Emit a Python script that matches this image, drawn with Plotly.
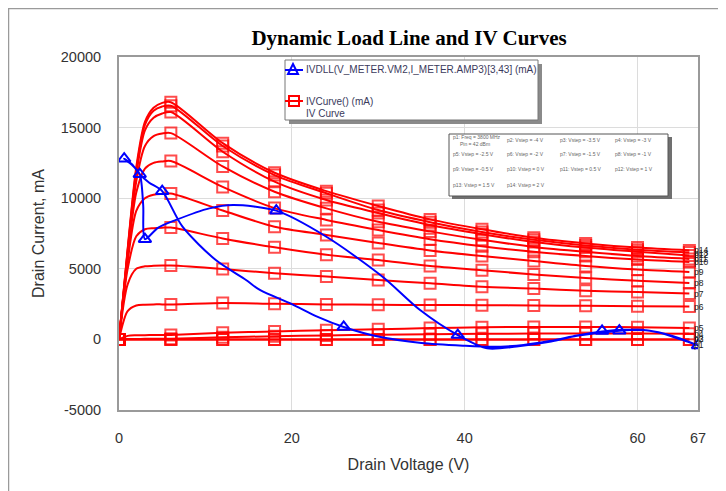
import plotly.graph_objects as go

# ---------------- data ----------------
iv_v = [0, 1, 2, 3, 4, 5, 6, 12, 18, 24, 30, 36, 42, 48, 54, 60, 66]

iv_p14 = [0, 6400, 12200, 15400, 16400, 16750, 16800, 13900, 11800, 10500, 9450, 8500, 7800, 7200, 6800, 6500, 6300]
iv_p13 = [0, 6300, 12000, 15200, 16200, 16500, 16550, 13700, 11640, 10350, 9160, 8300, 7600, 7050, 6650, 6350, 6150]
iv_p12 = [0, 6200, 11700, 14800, 15700, 16000, 16100, 13290, 11170, 9870, 8950, 8100, 7450, 6900, 6500, 6200, 5950]
iv_p11 = [0, 6000, 11200, 13700, 14400, 14580, 14610, 12250, 10460, 9280, 8330, 7650, 7050, 6550, 6200, 5900, 5700]
iv_p10 = [0, 5800, 10400, 12100, 12500, 12600, 12630, 10800, 9300, 8460, 7750, 7100, 6600, 6200, 5900, 5650, 5480]
iv_p9 = [0, 5500, 9100, 10000, 10250, 10310, 10330, 9130, 7980, 7400, 6830, 6300, 5900, 5550, 5200, 4950, 4770]
iv_p8 = [0, 5000, 7300, 7800, 7880, 7910, 7920, 7150, 6520, 5990, 5620, 5200, 4900, 4600, 4350, 4150, 4000]
iv_p7 = [0, 3900, 5000, 5180, 5210, 5225, 5230, 4990, 4680, 4450, 4200, 3970, 3730, 3600, 3450, 3350, 3250]
iv_p6 = [0, 2000, 2400, 2460, 2480, 2480, 2480, 2580, 2520, 2480, 2450, 2440, 2420, 2400, 2380, 2350, 2330]
iv_p5 = [0, 250, 290, 300, 305, 308, 310, 470, 560, 650, 720, 800, 860, 880, 880, 860, 810]
iv_p4 = [0, 20, 30, 40, 45, 50, 50, 150, 220, 280, 330, 370, 400, 410, 420, 420, 400]
iv_p3 = [0, 0, 0, 0, 0, 0, 0, 0, 0, 0, 0, 0, 0, 0, 0, 0, 0]
iv_p2 = [0, 0, 0, 0, 0, 0, 0, 0, 0, 0, 0, 0, 0, 0, 0, 0, 0]

curve_labels = ["p2", "p3", "p4", "p5", "p6", "p7", "p8", "p9", "p10", "p11", "p12", "p13", "p14"]
curve_values = [iv_p2, iv_p3, iv_p4, iv_p5, iv_p6, iv_p7, iv_p8, iv_p9, iv_p10,
                iv_p11, iv_p12, iv_p13, iv_p14]

# dynamic load line (closed loop path)
dll_v = [67, 65, 63, 61, 58.5, 55.9, 53, 50, 46, 43, 40, 35, 30, 26, 23, 20, 16.3, 14.7,
         11.2, 7.35, 5, 3.5, 2.4, 1.5, 0.6,
         1.6, 2.4, 2.8, 3.0, 4.5, 6.6, 10.45, 13.2, 18.2, 24, 30.5, 34.8, 39.2, 42.6,
         46, 50, 53, 57.9, 60.5, 62.5, 65, 67]
dll_i = [-430, 50, 420, 650, 680, 560, 280, -100, -450, -520, -450, -250, 200, 880, 1600,
         2500, 3500, 4210, 5620, 7980, 10500, 11100, 11700, 12400, 12800,
         12300, 11700, 9500, 7100, 7900, 8460, 9280, 9520, 9120, 7270, 4440, 2100, 310,
         -630, -500, -150, 250, 620, 680, 480, 0, -430]

tri_v = [0.6, 2.4, 3.0, 5.0, 18.2, 26, 39.2, 55.9, 57.9, 67]
tri_i = [12800, 11700, 7100, 10500, 9120, 880, 310, 600, 620, -430]

x_ticks = [0, 20, 40, 60, 67]
y_ticks = [-5000, 0, 5000, 10000, 15000, 20000]

info_texts = [
    ["p1: Freq = 3800 MHz<br>     Pin = 42 dBm", "p2: Vstep = -4 V", "p3: Vstep = -3.5 V", "p4: Vstep = -3 V"],
    ["p5: Vstep = -2.5 V", "p6: Vstep = -2 V", "p7: Vstep = -1.5 V", "p8: Vstep = -1 V"],
    ["p9: Vstep = -0.5 V", "p10: Vstep = 0 V", "p11: Vstep = 0.5 V", "p12: Vstep = 1 V"],
    ["p13: Vstep = 1.5 V", "p14: Vstep = 2 V", "", ""],
]

legend_blue = "IVDLL(V_METER.VM2,I_METER.AMP3)[3,43] (mA)"
legend_red = "IVCurve() (mA)"
legend_red2 = "IV Curve"

# ---------------- layout helpers ----------------
# the page body adds an 8 px offset; figure is sized to fill the rest
OFF = 8
W, H = 726 - OFF, 491 - OFF
ML, MT = 119 - OFF, 57 - OFF
PW, PH = 579, 353
MR, MB = W - ML - PW, H - MT - PH


def fx(px):  # page pixel -> paper x
    return (px - OFF - ML) / PW


def fy(py):  # page pixel -> paper y
    return (MT + PH - (py - OFF)) / PH


RED = "#ff0000"
BLUE = "#0000ff"
FONT = "Liberation Sans, Arial, sans-serif"

fig = go.Figure()

for vals in curve_values:
    fig.add_trace(go.Scatter(
        x=iv_v, y=vals, mode="lines+markers",
        line=dict(color=RED, width=2, shape="spline", smoothing=0.8),
        marker=dict(symbol="square-open", size=[11 if v % 6 == 0 else 0 for v in iv_v],
                    color=RED, line=dict(width=2, color=RED)),
        showlegend=False, hoverinfo="skip"))

fig.add_trace(go.Scatter(
    x=dll_v, y=dll_i, mode="lines",
    line=dict(color=BLUE, width=2, shape="spline", smoothing=0.8),
    showlegend=False, hoverinfo="skip"))
fig.add_trace(go.Scatter(
    x=tri_v, y=tri_i, mode="markers",
    marker=dict(symbol="triangle-up-open", size=11, color=BLUE, line=dict(width=2, color=BLUE)),
    showlegend=False, hoverinfo="skip"))

annotations = []
for lab, vals in zip(curve_labels, curve_values):
    annotations.append(dict(x=66.3, y=vals[-1], xref="x", yref="y", text=lab, showarrow=False,
                            xanchor="left", yanchor="middle",
                            font=dict(family=FONT, size=8.5, color="#222")))
annotations.append(dict(x=66.3, y=dll_i[-1], xref="x", yref="y", text="p1", showarrow=False,
                        xanchor="left", yanchor="middle", font=dict(family=FONT, size=8.5, color="#222")))

shapes = []
# outer frame
shapes.append(dict(type="rect", xref="paper", yref="paper", x0=fx(8.5), x1=fx(760), y0=fy(8.5), y1=fy(520),
                   line=dict(color="#9a9a9a", width=1.5), fillcolor="rgba(0,0,0,0)", layer="below"))

# legend box
shapes.append(dict(type="rect", xref="paper", yref="paper", x0=fx(289), x1=fx(542), y0=fy(64), y1=fy(124),
                   line=dict(width=0), fillcolor="#8a8a8a"))
shapes.append(dict(type="rect", xref="paper", yref="paper", x0=fx(285), x1=fx(538), y0=fy(60), y1=fy(120),
                   line=dict(color="#777", width=1), fillcolor="white"))
# blue legend symbol
shapes.append(dict(type="line", xref="paper", yref="paper", x0=fx(285), x1=fx(303), y0=fy(70), y1=fy(70),
                   line=dict(color=BLUE, width=2)))
shapes.append(dict(type="path", xref="paper", yref="paper",
                   path=f"M {fx(288)},{fy(74)} L {fx(298)},{fy(74)} L {fx(293)},{fy(64)} Z",
                   line=dict(color=BLUE, width=2), fillcolor="rgba(0,0,0,0)"))
# red legend symbol
shapes.append(dict(type="line", xref="paper", yref="paper", x0=fx(285), x1=fx(303), y0=fy(101), y1=fy(101),
                   line=dict(color=RED, width=2)))
shapes.append(dict(type="rect", xref="paper", yref="paper", x0=fx(289), x1=fx(299), y0=fy(96), y1=fy(106),
                   line=dict(color=RED, width=2), fillcolor="rgba(0,0,0,0)"))

annotations.append(dict(x=fx(304), y=fy(70), xref="paper", yref="paper", text=legend_blue, showarrow=False,
                        xanchor="left", yanchor="middle", font=dict(family=FONT, size=10, color="#3a3a5c")))
annotations.append(dict(x=fx(304), y=fy(101), xref="paper", yref="paper", text=legend_red, showarrow=False,
                        xanchor="left", yanchor="middle", font=dict(family=FONT, size=10, color="#3a3a5c")))
annotations.append(dict(x=fx(304), y=fy(113), xref="paper", yref="paper", text=legend_red2, showarrow=False,
                        xanchor="left", yanchor="middle", font=dict(family=FONT, size=10, color="#3a3a5c")))

# info box
shapes.append(dict(type="rect", xref="paper", yref="paper", x0=fx(452), x1=fx(672), y0=fy(137), y1=fy(199),
                   line=dict(width=0), fillcolor="#707070"))
shapes.append(dict(type="rect", xref="paper", yref="paper", x0=fx(449), x1=fx(668), y0=fy(134), y1=fy(196),
                   line=dict(color="#555", width=1), fillcolor="white"))
col_px = [451, 505, 558, 613]
row_px = [140, 154, 169, 185]
for r, row in enumerate(info_texts):
    for c, txt in enumerate(row):
        if not txt:
            continue
        annotations.append(dict(x=fx(col_px[c]), y=fy(row_px[r]), xref="paper", yref="paper", text=txt,
                                showarrow=False, xanchor="left", yanchor="middle", align="left",
                                font=dict(family=FONT, size=5, color="#666")))

fig.update_layout(
    width=W, height=H,
    margin=dict(l=ML, r=MR, t=MT, b=MB, autoexpand=False),
    paper_bgcolor="white", plot_bgcolor="white",
    title=dict(text="Dynamic Load Line and IV Curves", x=fx(409), xref="paper", xanchor="center",
               y=1 - (38 - OFF) / H, yanchor="middle",
               font=dict(family="Liberation Serif, Times New Roman, serif", size=21, color="black",
                         weight="bold")),
    xaxis=dict(range=[0, 67], tickvals=x_ticks, ticktext=[str(t) for t in x_ticks],
               showgrid=True, gridcolor="#dcdcdc", gridwidth=1, zeroline=False,
               showline=True, mirror=True, linecolor="#9a9a9a", linewidth=2,
               ticks="", ticklabelstandoff=14,
               tickfont=dict(family=FONT, size=14.5, color="#333"),
               title=dict(text="Drain Voltage (V)", font=dict(family=FONT, size=16, color="#333"), standoff=13)),
    yaxis=dict(range=[-5000, 20000], tickvals=y_ticks, ticktext=[str(t) for t in y_ticks],
               showgrid=True, gridcolor="#dcdcdc", gridwidth=1, zeroline=False,
               showline=True, mirror=True, linecolor="#9a9a9a", linewidth=2,
               ticks="", ticklabelstandoff=13,
               tickfont=dict(family=FONT, size=14.5, color="#333"),
               title=dict(text="Drain Current, mA", font=dict(family=FONT, size=16, color="#333"), standoff=12)),
    shapes=shapes,
    annotations=annotations,
    showlegend=False,
)

fig.write_html("out.html")
